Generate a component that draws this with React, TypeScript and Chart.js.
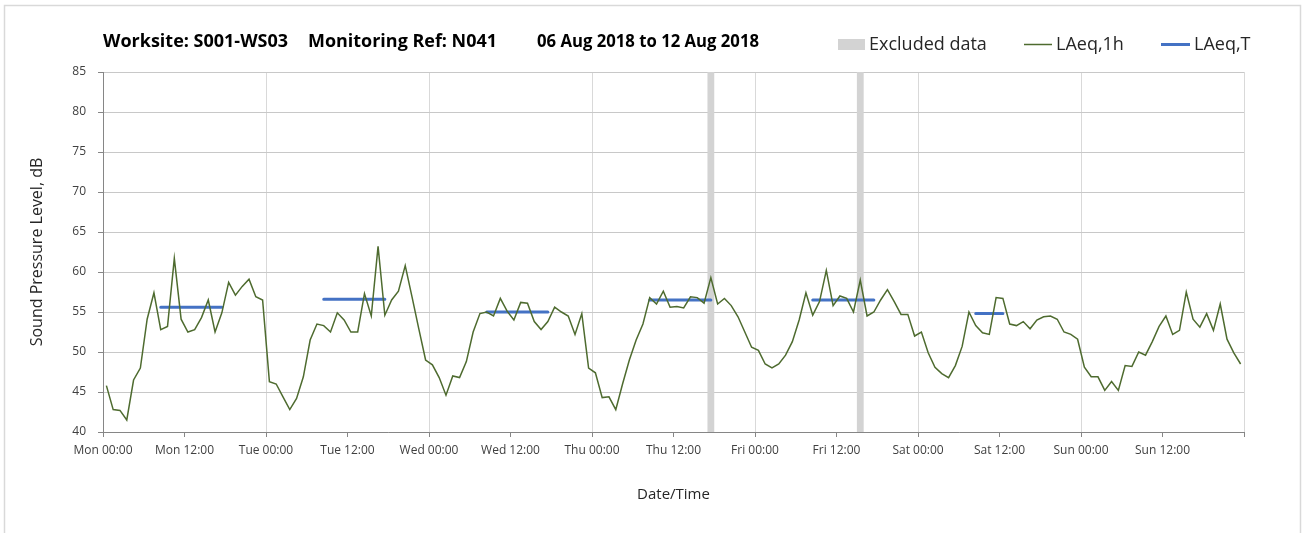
import React, { useEffect, useRef } from "react";
import { Chart, registerables } from "chart.js";

Chart.register(...registerables);

// ---- DATA ----
// Hourly LAeq,1h values, Mon 00:00 .. Sun 23:00 (168 hours)
const laeq1hMon = [45.8, 42.8, 42.7, 41.5, 46.5, 48.0, 54.1, 57.4, 52.8, 53.2, 61.7, 54.1, 52.5, 52.8, 54.3, 56.5, 52.5, 54.9, 58.7, 57.1, 58.2, 59.1, 56.9, 56.5];
const laeq1hTue = [46.3, 46.0, 44.4, 42.8, 44.2, 46.9, 51.5, 53.5, 53.3, 52.5, 54.9, 54.0, 52.5, 52.5, 57.3, 54.5, 63.2, 54.6, 56.5, 57.6, 60.8, 56.9, 52.9, 49.0];
const laeq1hWed = [48.4, 46.8, 44.6, 47.0, 46.8, 48.8, 52.5, 54.8, 55.0, 54.5, 56.7, 55.1, 54.0, 56.2, 56.1, 53.8, 52.8, 53.8, 55.6, 55.0, 54.5, 52.2, 54.8, 48.0];
const laeq1hThu = [47.4, 44.3, 44.4, 42.8, 46.0, 49.0, 51.5, 53.5, 56.8, 56.0, 57.6, 55.6, 55.7, 55.5, 56.9, 56.8, 56.1, 59.3, 56.0, 56.7, 55.8, 54.4, 52.5, 50.6];
const laeq1hFri = [50.2, 48.5, 48.0, 48.5, 49.6, 51.3, 54.0, 57.4, 54.6, 56.3, 60.2, 55.8, 57.0, 56.7, 55.0, 59.0, 54.5, 55.0, 56.5, 57.8, 56.3, 54.7, 54.7, 52.0];
const laeq1hSat = [52.5, 49.9, 48.1, 47.3, 46.8, 48.3, 50.7, 55.0, 53.3, 52.4, 52.2, 56.8, 56.7, 53.5, 53.3, 53.8, 52.9, 54.0, 54.4, 54.5, 54.1, 52.5, 52.2, 51.6];
const laeq1hSun = [48.1, 46.9, 46.9, 45.2, 46.3, 45.2, 48.3, 48.2, 50.0, 49.6, 51.3, 53.2, 54.5, 52.2, 52.7, 57.5, 54.1, 53.1, 54.8, 52.7, 56.0, 51.6, 49.9, 48.5];

// LAeq,T daytime periods (hours from Mon 00:00, plotted at bin centres)
const laeqTStart = [8.5, 32.5, 56.5, 80.5, 104.5, 128.5];
const laeqTEnd = [17.5, 41.5, 65.5, 89.5, 113.5, 132.5];
const laeqTValue = [55.6, 56.6, 55.0, 56.5, 56.5, 54.8];

// Excluded data hours
const excludedStart = [89, 111];
const excludedEnd = [90, 112];

// Tick labels
const xTickLabels = [
  "Mon 00:00", "Mon 12:00", "Tue 00:00", "Tue 12:00", "Wed 00:00", "Wed 12:00",
  "Thu 00:00", "Thu 12:00", "Fri 00:00", "Fri 12:00", "Sat 00:00", "Sat 12:00",
  "Sun 00:00", "Sun 12:00",
];
const yMin = 40;
const yMax = 85;
const yStep = 5;
const hoursTotal = 168;

const titleParts = ["Worksite: S001-WS03", "Monitoring Ref: N041", "06 Aug 2018 to 12 Aug 2018"];
const legendLabels = ["Excluded data", "LAeq,1h", "LAeq,T"];

const FONT = "'Open Sans', 'DejaVu Sans', sans-serif";
const GREEN = "#4e6b2f";
const BLUE = "#4472c4";
const BAND = "#d3d3d3";

export default function App() {
  const ref = useRef<HTMLCanvasElement | null>(null);

  useEffect(() => {
    const canvas = ref.current;
    if (!canvas) return;

    const hourly = [
      ...laeq1hMon, ...laeq1hTue, ...laeq1hWed, ...laeq1hThu,
      ...laeq1hFri, ...laeq1hSat, ...laeq1hSun,
    ];
    const greenData = hourly.map((v, i) => ({ x: i + 0.5, y: v }));
    const blueData: { x: number; y: number | null }[] = [];
    laeqTValue.forEach((v, i) => {
      blueData.push({ x: laeqTStart[i], y: v });
      blueData.push({ x: laeqTEnd[i], y: v });
      blueData.push({ x: laeqTEnd[i] + 0.01, y: null });
    });

    const overlay = {
      id: "overlay",
      beforeDraw(chart: any) {
        const c = chart.ctx;
        c.save();
        c.fillStyle = "#ffffff";
        c.fillRect(0, 0, chart.width, chart.height);
        c.strokeStyle = "#d9d9d9";
        c.lineWidth = 1.5;
        c.strokeRect(4.5, 5.5, 1296, 600);
        c.restore();
      },
      beforeDatasetsDraw(chart: any) {
        const c = chart.ctx;
        const xs = chart.scales.x;
        const area = chart.chartArea;
        c.save();
        c.fillStyle = BAND;
        excludedStart.forEach((s, i) => {
          const x0 = xs.getPixelForValue(s);
          const x1 = xs.getPixelForValue(excludedEnd[i]);
          c.fillRect(x0, area.top, x1 - x0, area.bottom - area.top);
        });
        c.restore();
      },
      afterDraw(chart: any) {
        const c = chart.ctx;
        c.save();
        // Title
        c.fillStyle = "#000000";
        c.font = `bold 18px ${FONT}`;
        c.textBaseline = "alphabetic";
        c.textAlign = "left";
        const titleX = [chart.chartArea.left, 308, 537];
        const titleW = [188, 189, 222];
        titleParts.forEach((t, i) => c.fillText(t, titleX[i], 47, titleW[i]));
        // Legend
        c.font = `18px ${FONT}`;
        c.fillStyle = BAND;
        c.fillRect(838, 39, 27, 11);
        c.fillStyle = "#262626";
        c.fillText(legendLabels[0], 869, 50);
        c.strokeStyle = GREEN;
        c.lineWidth = 1.5;
        c.beginPath();
        c.moveTo(1024, 44.5);
        c.lineTo(1052, 44.5);
        c.stroke();
        c.fillText(legendLabels[1], 1056, 50);
        c.strokeStyle = BLUE;
        c.lineWidth = 3;
        c.beginPath();
        c.moveTo(1161, 44.5);
        c.lineTo(1190, 44.5);
        c.stroke();
        c.fillText(legendLabels[2], 1194, 50);
        c.restore();
      },
    };

    const chart = new Chart(canvas, {
      type: "line",
      data: {
        datasets: [
          {
            label: legendLabels[1],
            data: greenData,
            borderColor: GREEN,
            borderWidth: 1.5,
            pointRadius: 0,
            tension: 0,
            fill: false,
          },
          {
            label: legendLabels[2],
            data: blueData as any,
            borderColor: BLUE,
            borderWidth: 3,
            borderCapStyle: "round",
            pointRadius: 0,
            tension: 0,
            spanGaps: false,
            fill: false,
          },
        ],
      },
      options: {
        animation: false,
        responsive: false,
        maintainAspectRatio: false,
        events: [],
        layout: { padding: { top: 72, right: 63, left: 0, bottom: 0 } },
        plugins: {
          legend: { display: false },
          title: { display: false },
          tooltip: { enabled: false },
        },
        scales: {
          x: {
            type: "linear",
            min: 0,
            max: hoursTotal,
            afterFit: (s: any) => {
              s.height = 101;
            },
            ticks: {
              stepSize: 12,
              autoSkip: false,
              maxRotation: 0,
              minRotation: 0,
              padding: 6,
              color: "#404040",
              font: { family: FONT, size: 12 },
              callback: (_v: any, i: number) => xTickLabels[i] ?? "",
            },
            grid: {
              color: (ctx: any) =>
                ctx.tick && ctx.tick.value % 24 === 0 ? "#d9d9d9" : "rgba(0,0,0,0)",
              tickColor: "#868686",
              tickLength: 5,
              lineWidth: 1,
            },
            border: { color: "#868686", width: 1 },
            title: {
              display: true,
              text: "Date/Time",
              color: "#262626",
              font: { family: FONT, size: 15 },
              padding: { top: 0, bottom: 29 },
            },
          },
          y: {
            type: "linear",
            min: yMin,
            max: yMax,
            afterFit: (s: any) => {
              s.width = 103;
            },
            ticks: {
              stepSize: yStep,
              padding: 12,
              color: "#404040",
              font: { family: FONT, size: 12 },
            },
            grid: {
              color: "#c8c8c8",
              tickColor: "#868686",
              tickLength: 5,
              lineWidth: 1,
            },
            border: { color: "#868686", width: 1 },
            title: {
              display: true,
              text: "Sound Pressure Level, dB",
              color: "#262626",
              font: { family: FONT, size: 16 },
              padding: { top: 28, bottom: 0 },
            },
          },
        },
      },
      plugins: [overlay],
    } as any);

    return () => chart.destroy();
  }, []);

  return (
    <canvas
      ref={ref}
      width={1307}
      height={533}
      style={{ position: "absolute", left: 0, top: 0, display: "block", width: 1307, height: 533 }}
    />
  );
}
